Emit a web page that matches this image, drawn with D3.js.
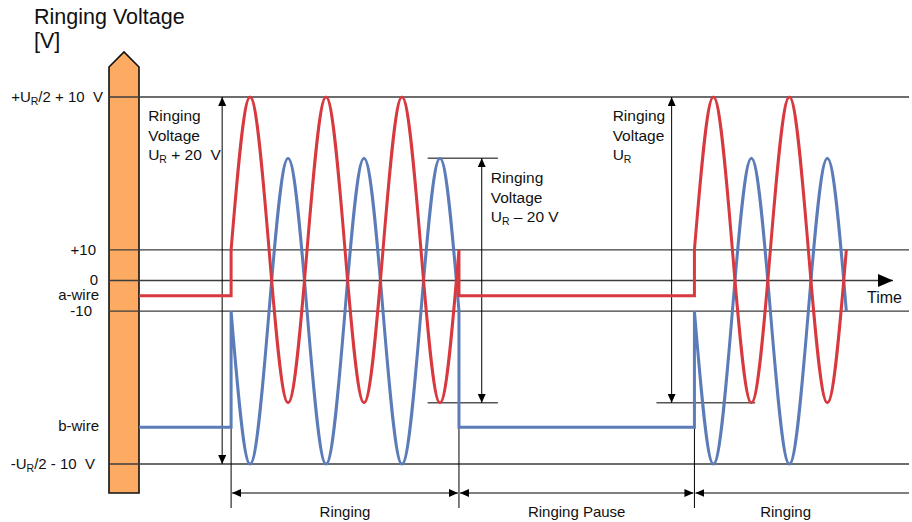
<!DOCTYPE html>
<html>
<head>
<meta charset="utf-8">
<script src="https://cdn.jsdelivr.net/npm/d3@7"></script>
<style>
  html, body { margin: 0; padding: 0; background: #fff; }
  svg { display: block; font-family: Arial, "Liberation Sans", sans-serif; }
  text { white-space: pre; fill: #111; }
</style>
</head>
<body>
<div id="chart"></div>
<script>
// Data
const levelValues = [60, 10, 0, -10, -60];
const levelLabels = ["+U_R/2 + 10  V", "+10", "0", "-10", "-U_R/2 - 10  V"];
const wireNames = ["a-wire", "b-wire"];
const wireIdle = [-5, -48];

const burstTimes1 = [0, 10, 20, 30, 40, 50, 60, 70, 80, 90, 100, 110, 120];
const aBurst1 = [10, 60, 10, -40, 10, 60, 10, -40, 10, 60, 10, -40, 10];
const bBurst1 = [-10, -60, -10, 40, -10, -60, -10, 40, -10, -60, -10, 40, -10];
const burstTimes2 = [244, 254, 264, 274, 284, 294, 304, 314, 324];
const aBurst2 = [10, 60, 10, -40, 10, 60, 10, -40, 10];
const bBurst2 = [-10, -60, -10, 40, -10, -60, -10, 40, -10];

const phaseStarts = [0, 120, 244];
const phaseEnds = [120, 244, 340];
const phaseNames = ["Ringing", "Ringing Pause", "Ringing"];

const spanTop = [60, 40, 60];
const spanBottom = [-60, -40, -40];
const spanTexts = [
  ["Ringing", "Voltage", "U_R + 20  V"],
  ["Ringing", "Voltage", "U_R \u2013 20 V"],
  ["Ringing", "Voltage", "U_R"],
];

// Dimensions / layout
const dimensions = {
  width: 912,
  height: 522,
  barLeft: 109,
  barRight: 139,
  barTop: 67,
  barTip: 52,
  barBottom: 493,
  lineRight: 909,
  dimY: 493,
  dimBottom: 508,
};
const tMin = -48.5;
const tMax = 357;
const spanAt = [-4.7, 132, 232]; // time position of the voltage arrows
const spanTextDx = [-74, 9, -59];
const spanTicks = [null, [103.5, 140.5], [224, 276]];
const labelEnd = [103, 96, 98, 92, 95];

const red = "#d7393f";
const blue = "#5b7cb8";
const gridColor = "#3c3c3c";

// Draw Image
const svg = d3
  .select("#chart")
  .append("svg")
  .attr("width", dimensions.width)
  .attr("height", dimensions.height);

const defs = svg.append("defs");
function marker(id, w, h) {
  defs
    .append("marker")
    .attr("id", id)
    .attr("viewBox", "0 0 10 10")
    .attr("refX", 10)
    .attr("refY", 5)
    .attr("markerWidth", w)
    .attr("markerHeight", h)
    .attr("markerUnits", "userSpaceOnUse")
    .attr("preserveAspectRatio", "none")
    .attr("orient", "auto-start-reverse")
    .append("path")
    .attr("d", "M0,0L10,5L0,10Z")
    .attr("fill", "#000");
}
marker("arrow", 9, 8);
marker("bigArrow", 15, 13);

// Scales
const xScale = d3.scaleLinear().domain([tMin, tMax]).range([dimensions.barRight, dimensions.lineRight]);
const yScale = d3.scaleLinear().domain([-60, 60]).range([464, 97]);

// rich text: "_X" -> subscript X
function rich(text, str) {
  const parts = str.split(/_(\w)/);
  parts.forEach((p, i) => {
    if (i % 2 === 1) {
      text.append("tspan").attr("font-size", "10.5px").attr("dy", 3).text(p);
    } else if (p.length) {
      text.append("tspan").attr("dy", i > 0 ? -3 : 0).text(p);
    }
  });
}

// Title
const title = svg.append("g").attr("font-size", "21.5px");
title.append("text").attr("x", 34).attr("y", 24).text("Ringing Voltage");
title.append("text").attr("x", 34).attr("y", 48).text("[V]");

// Orange axis bar
svg
  .append("path")
  .attr(
    "d",
    `M${dimensions.barLeft},${dimensions.barBottom}V${dimensions.barTop}` +
      `L${(dimensions.barLeft + dimensions.barRight) / 2},${dimensions.barTip}` +
      `L${dimensions.barRight},${dimensions.barTop}V${dimensions.barBottom}Z`
  )
  .attr("fill", "#fdaa62")
  .attr("stroke", "#111")
  .attr("stroke-width", 1.6);

// Level lines
svg
  .append("g")
  .selectAll("line")
  .data(levelValues)
  .join("line")
  .attr("x1", dimensions.barLeft)
  .attr("x2", (d) => (d === 0 ? xScale(tMax) - 16 : dimensions.lineRight))
  .attr("y1", (d) => yScale(d))
  .attr("y2", (d) => yScale(d))
  .attr("stroke", gridColor)
  .attr("stroke-width", 1.3)
  .attr("marker-end", (d) => (d === 0 ? "url(#bigArrow)" : null));

svg
  .append("text")
  .attr("x", 867)
  .attr("y", 303)
  .attr("font-size", "16px")
  .text("Time");

// Level labels
svg
  .append("g")
  .attr("font-size", "15px")
  .attr("text-anchor", "end")
  .selectAll("text")
  .data(levelValues)
  .join("text")
  .attr("x", (d, i) => labelEnd[i])
  .attr("y", (d) => yScale(d) + (d === 0 ? 4 : 5))
  .each(function (d, i) {
    rich(d3.select(this), levelLabels[i]);
  });

svg
  .append("g")
  .attr("font-size", "15px")
  .attr("text-anchor", "end")
  .selectAll("text")
  .data(wireIdle)
  .join("text")
  .attr("x", 99)
  .attr("y", (d) => yScale(d) + 4)
  .text((d, i) => wireNames[i]);

// Voltage span arrows
spanAt.forEach((t, i) => {
  const x = xScale(t);
  svg
    .append("line")
    .attr("x1", x)
    .attr("x2", x)
    .attr("y1", yScale(spanBottom[i]))
    .attr("y2", yScale(spanTop[i]))
    .attr("stroke", "#000")
    .attr("stroke-width", 1)
    .attr("marker-start", "url(#arrow)")
    .attr("marker-end", "url(#arrow)");

  if (spanTicks[i]) {
    const levels = i === 1 ? [spanTop[i], spanBottom[i]] : [spanBottom[i]];
    levels.forEach((v) => {
      svg
        .append("line")
        .attr("x1", xScale(spanTicks[i][0]))
        .attr("x2", xScale(spanTicks[i][1]))
        .attr("y1", yScale(v))
        .attr("y2", yScale(v))
        .attr("stroke", "#000")
        .attr("stroke-width", 1);
    });
  }

  const top = i === 1 ? 183 : 121;
  const g = svg.append("g").attr("font-size", "15.5px");
  spanTexts[i].forEach((s, j) => {
    const tx = g
      .append("text")
      .attr("x", x + spanTextDx[i])
      .attr("y", top + j * 19.5);
    rich(tx, s);
  });
});

// Phase dimension lines
svg
  .append("g")
  .selectAll("line")
  .data(phaseStarts)
  .join("line")
  .attr("x1", (d) => xScale(d))
  .attr("x2", (d) => xScale(d))
  .attr("y1", yScale(wireIdle[1]))
  .attr("y2", dimensions.dimBottom)
  .attr("stroke", "#000")
  .attr("stroke-width", 1);

svg
  .append("g")
  .selectAll("line")
  .data(phaseStarts)
  .join("line")
  .attr("x1", (d) => xScale(d) + 1)
  .attr("x2", (d, i) => (i < 2 ? xScale(phaseEnds[i]) - 1 : dimensions.lineRight))
  .attr("y1", dimensions.dimY)
  .attr("y2", dimensions.dimY)
  .attr("stroke", "#000")
  .attr("stroke-width", 1)
  .attr("marker-start", "url(#arrow)")
  .attr("marker-end", (d, i) => (i < 2 ? "url(#arrow)" : null));

svg
  .append("g")
  .attr("font-size", "15px")
  .attr("text-anchor", "middle")
  .selectAll("text")
  .data(phaseNames)
  .join("text")
  .attr("x", (d, i) => xScale((phaseStarts[i] + phaseEnds[i]) / 2))
  .attr("y", 517)
  .text((d) => d);

// Wires
const linear = d3
  .line()
  .x((d) => xScale(d[0]))
  .y((d) => yScale(d[1]));
const smooth = d3
  .line()
  .x((d) => xScale(d[0]))
  .y((d) => yScale(d[1]))
  .curve(d3.curveNatural);

function wirePath(idle, vals1, vals2) {
  const t1 = burstTimes1;
  const t2 = burstTimes2;
  const cont = (s) => s.replace(/^M/, "L");
  return (
    linear([[tMin, idle], [t1[0], idle], [t1[0], vals1[0]]]) +
    cont(smooth(t1.map((t, i) => [t, vals1[i]]))) +
    cont(
      linear([
        [t1[t1.length - 1], vals1[vals1.length - 1]],
        [t1[t1.length - 1], idle],
        [t2[0], idle],
        [t2[0], vals2[0]],
      ])
    ) +
    cont(smooth(t2.map((t, i) => [t, vals2[i]])))
  );
}

const wires = [
  { idle: wireIdle[1], v1: bBurst1, v2: bBurst2, color: blue },
  { idle: wireIdle[0], v1: aBurst1, v2: aBurst2, color: red },
];

svg
  .append("g")
  .selectAll("path")
  .data(wires)
  .join("path")
  .attr("d", (d) => wirePath(d.idle, d.v1, d.v2))
  .attr("fill", "none")
  .attr("stroke", (d) => d.color)
  .attr("stroke-width", 3)
  .attr("stroke-linejoin", "miter");
</script>
</body>
</html>
